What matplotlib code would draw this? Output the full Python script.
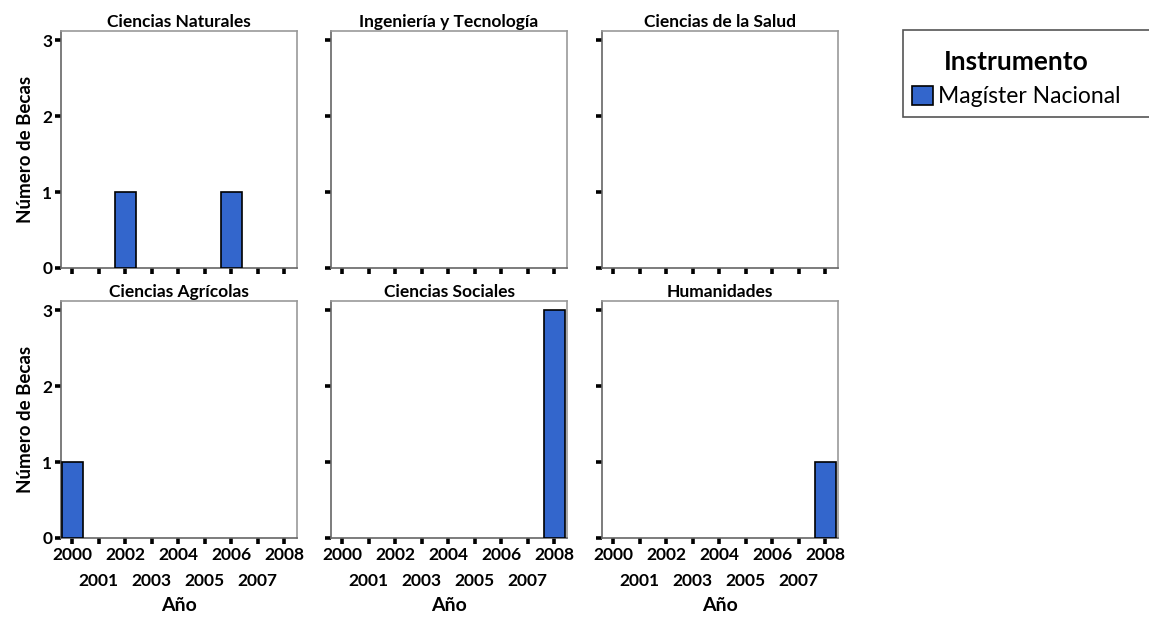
import matplotlib
matplotlib.use("Agg")
import numpy as np
from matplotlib import pyplot as plt
from matplotlib.patches import Patch, Rectangle

plt.rcParams["font.family"] = ["Lato", "DejaVu Sans"]

years = list(range(2000, 2009))
areas = ["Ciencias Naturales", "Ingeniería y Tecnología", "Ciencias de la Salud",
         "Ciencias Agrícolas", "Ciencias Sociales", "Humanidades"]
becas = {
    "Ciencias Naturales":      [0, 0, 1, 0, 0, 0, 1, 0, 0],
    "Ingeniería y Tecnología": [0, 0, 0, 0, 0, 0, 0, 0, 0],
    "Ciencias de la Salud":    [0, 0, 0, 0, 0, 0, 0, 0, 0],
    "Ciencias Agrícolas":      [1, 0, 0, 0, 0, 0, 0, 0, 0],
    "Ciencias Sociales":       [0, 0, 0, 0, 0, 0, 0, 0, 3],
    "Humanidades":             [0, 0, 0, 0, 0, 0, 0, 0, 1],
}
instrumento = "Magíster Nacional"

W, H = 1149, 619
blue = "#3366cc"
spine_c = "#999999"

fig = plt.figure(figsize=(W / 100, H / 100), dpi=100)

lefts = [61, 331, 602]
tops = [31, 301]
aw, ah = 236, 237

even = [y for y in years if y % 2 == 0]
odd = [y for y in years if y % 2 == 1]

for k, area in enumerate(areas):
    r, c = divmod(k, 3)
    ax = fig.add_axes([lefts[c] / W, 1 - (tops[r] + ah) / H, aw / W, ah / H])
    vals = np.array(becas[area])
    yrs = np.array(years)
    m = vals > 0
    ax.bar(yrs[m], vals[m], width=0.8, color=blue, edgecolor="black", linewidth=1.2, zorder=3)
    ax.set_xlim(1999.58, 2008.48)
    ax.set_ylim(0, 3.12)
    ax.set_title(area, fontsize=12.5, fontweight="bold", pad=3)
    for s in ax.spines.values():
        s.set_color(spine_c)
        s.set_linewidth(1.2)
    ax.spines["left"].set_color("#666666")
    ax.spines["bottom"].set_color("#666666")
    ax.set_yticks([0, 1, 2, 3])
    ax.set_xticks(even)
    ax.set_xticks(odd, minor=True)
    ax.tick_params(axis="both", which="both", direction="out", color="black", width=2.6,
                   length=4.3, labelsize=12.5, pad=2)
    ax.tick_params(axis="x", which="minor", pad=21)
    if c == 0:
        ax.set_yticklabels([str(v) for v in [0, 1, 2, 3]], fontweight="bold")
        ax.set_ylabel("Número de Becas", fontsize=13.5, fontweight="bold", labelpad=6)
    else:
        ax.set_yticklabels([])
    if r == 1:
        ax.set_xticklabels([str(y) for y in even], fontweight="bold")
        ax.set_xticklabels([str(y) for y in odd], minor=True, fontweight="bold")
        ax.set_xlabel("Año", fontsize=14, fontweight="bold", labelpad=6)
    else:
        ax.set_xticklabels([])
        ax.set_xticklabels([], minor=True)

# legend frame (cut at the right edge like the original)
fig.patches.append(Rectangle((903 / W, 1 - 117 / H), 300 / W, 87 / H,
                             transform=fig.transFigure, facecolor="white",
                             edgecolor="#555555", linewidth=1.2, zorder=0))
leg = fig.legend([Patch(facecolor=blue, edgecolor="black", linewidth=1.2)], [instrumento],
                 loc="upper left", bbox_to_anchor=(910 / W, 1 - 48 / H), frameon=False,
                 title="Instrumento", fontsize=16.5, handlelength=0.9, handleheight=0.9,
                 handletextpad=0.2, borderpad=0.1, borderaxespad=0)
leg.get_title().set_fontsize(19)
leg.get_title().set_fontweight("bold")

fig.savefig("out.png", dpi=100)
